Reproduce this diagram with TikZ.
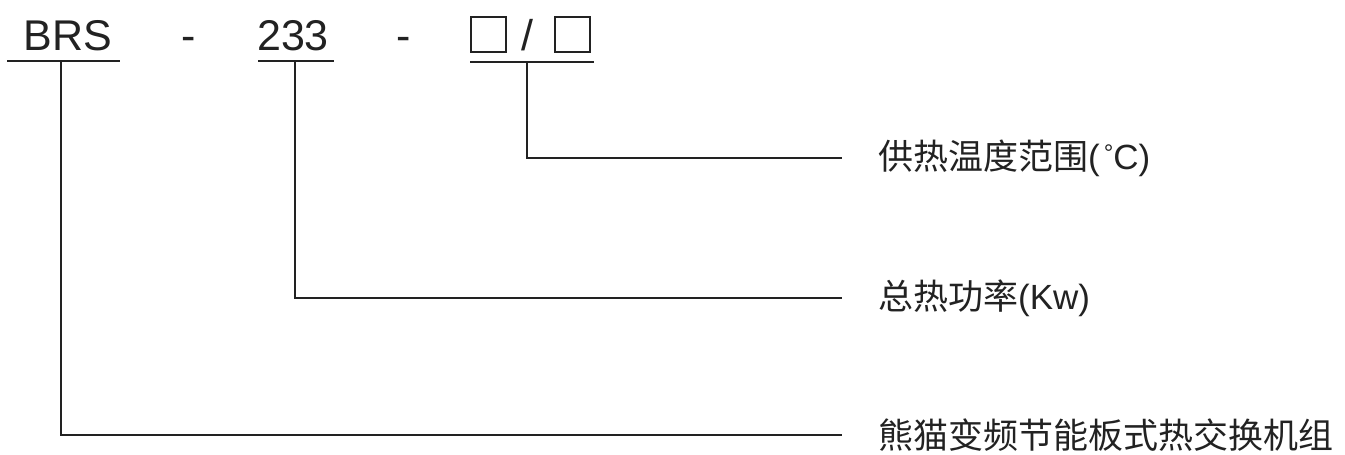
\documentclass[tikz,border=0pt]{standalone}
\usepackage{fontspec}
\setmainfont{Liberation Sans}
\newfontfamily\cjk{Noto Sans CJK SC}
\definecolor{ink}{HTML}{222222}
\begin{document}
\begin{tikzpicture}[x=1pt,y=-1pt,
  code/.style={font=\fontsize{43}{48}\selectfont, text=ink, inner sep=0pt, anchor=base},
  lbl/.style={font=\fontsize{35}{40}\selectfont, text=ink, inner sep=0pt, anchor=west},
  uline/.style={draw=ink, line width=2pt},
  conn/.style={draw=ink, line width=2pt},
  phbox/.style={draw=ink, line width=2.6pt, minimum width=35pt, minimum height=35pt, inner sep=0pt}]
\useasboundingbox (0,0) rectangle (1345,455);
% code parts
\node[code] (brs) at (68,50) {BRS};
\node[code] (d1) at (189,50) {-};
\node[code] (num) at (293,50) {233};
\node[code] (d2) at (404,50) {-};
\node[phbox] (b1) at (488.5,34.5) {};
\node[code] (sl) at (527,50) {/};
\node[phbox] (b2) at (572.5,34.5) {};
% underlines
\coordinate (u1a) at (7,61);   \coordinate (u1b) at (120,61);
\coordinate (u2a) at (258,61); \coordinate (u2b) at (334,61);
\coordinate (u3a) at (470,62); \coordinate (u3b) at (594,62);
\draw[uline] (u1a) -- (u1b);
\draw[uline] (u2a) -- (u2b);
\draw[uline] (u3a) -- (u3b);
% labels
\node[lbl] (l1) at (878,158) {{\cjk 供热温度范围}(\hspace{4pt}{\fontsize{24}{24}\selectfont\raisebox{8pt}{°}}C)};
\node[lbl] (l2) at (878,298) {{\cjk 总热功率}(Kw)};
\node[lbl] (l3) at (878,435) {{\cjk 熊猫变频节能板式热交换机组}};
% connector start points and free ends
\coordinate (s1) at (527,62);
\coordinate (s2) at (295,61);
\coordinate (s3) at (61,61);
\coordinate (e1) at (842,158);
\coordinate (e2) at (842,298);
\coordinate (e3) at (842,435);
\draw[conn] (s1) |- (e1);
\draw[conn] (s2) |- (e2);
\draw[conn] (s3) |- (e3);
\end{tikzpicture}
\end{document}
